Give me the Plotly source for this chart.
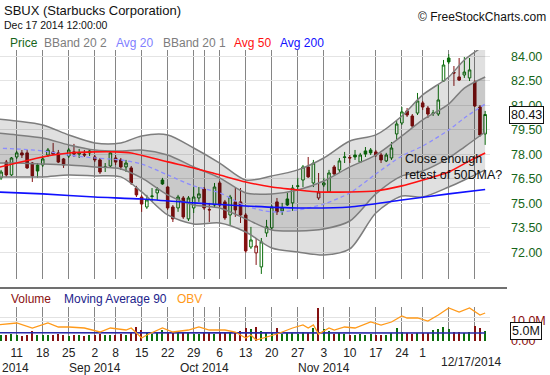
import plotly.graph_objects as go

# ---------------- data (trading-day index 0 = Aug 11 2014, 90 = Dec 17 2014) ----------------
day_idx = list(range(-3, 91))
opens = [76.55, 77.52, 76.73, 77.83, 78.08, 78.08, 77.46, 77.34, 77.34, 77.95,
         78.14, 78.08, 77.71, 77.89, 78.14, 78.01, 78.01, 78.20, 77.83, 77.65,
         77.19, 77.28, 77.77, 77.65, 77.22, 77.16, 75.93, 75.38, 74.77, 75.41,
         75.63, 76.42, 75.99, 74.77, 74.71, 75.32, 74.04, 74.71, 75.32, 75.87,
         74.62, 74.89, 76.24, 75.08, 74.28, 75.08, 75.08, 74.28, 72.32, 71.96,
         71.10, 73.18, 73.49, 75.08, 74.53, 75.26, 75.02, 76.03, 76.42, 77.22,
         76.24, 75.32, 76.12, 75.69, 77.22, 77.04, 77.80, 77.80, 77.95, 77.52,
         78.20, 78.26, 78.14, 77.95, 77.59, 77.77, 79.24, 79.91, 80.65, 80.34,
         80.52, 81.14, 80.83, 80.49, 80.46, 82.48, 83.89, 83.00, 82.73, 82.85,
         82.67, 82.42, 80.89, 79.24]
highs = [77.04, 77.65, 77.83, 78.20, 78.26, 78.26, 77.52, 77.46, 77.83, 78.38,
         78.69, 78.26, 77.77, 78.38, 78.63, 78.32, 78.26, 78.26, 77.95, 77.77,
         77.46, 78.20, 77.95, 77.77, 77.65, 77.28, 76.06, 75.51, 75.51, 75.93,
         75.99, 76.55, 76.06, 74.89, 75.51, 75.44, 75.44, 75.99, 75.99, 75.99,
         75.02, 76.24, 76.36, 75.20, 75.51, 75.93, 75.93, 74.40, 73.55, 72.87,
         72.87, 73.98, 74.89, 75.32, 75.02, 75.63, 76.12, 76.55, 77.34, 77.83,
         77.65, 76.85, 76.55, 77.04, 77.34, 77.77, 78.14, 77.95, 78.26, 78.08,
         78.44, 78.38, 78.26, 78.08, 78.08, 78.75, 80.03, 80.89, 80.83, 80.46,
         81.75, 81.26, 80.95, 80.71, 82.24, 83.77, 84.13, 83.40, 83.89, 83.95,
         83.89, 82.54, 81.01, 80.65]
lows = [76.42, 76.61, 76.67, 77.71, 77.77, 77.10, 76.30, 76.55, 77.22, 77.83,
        77.95, 77.46, 77.16, 77.77, 77.83, 77.77, 77.83, 77.89, 77.52, 76.79,
        76.91, 77.16, 77.34, 77.04, 76.91, 76.12, 75.38, 74.47, 74.65, 75.08,
        75.20, 76.12, 74.59, 73.85, 74.47, 74.04, 73.91, 74.40, 75.08, 74.59,
        73.85, 74.77, 74.77, 73.98, 73.67, 74.16, 73.79, 71.96, 72.20, 71.22,
        70.67, 72.94, 73.36, 74.28, 74.28, 74.83, 74.53, 75.81, 75.99, 76.55,
        75.99, 75.20, 75.99, 75.63, 76.73, 76.91, 77.46, 77.46, 77.65, 77.46,
        77.83, 77.95, 77.83, 77.46, 77.52, 77.65, 78.87, 79.79, 80.28, 79.61,
        80.40, 80.71, 80.22, 80.34, 80.34, 82.42, 83.52, 82.18, 82.48, 82.67,
        82.48, 80.89, 79.06, 78.57]
closes = [76.91, 76.73, 77.77, 78.08, 77.95, 77.16, 76.67, 76.97, 77.71, 78.26,
          78.01, 77.52, 77.34, 78.26, 78.01, 78.08, 77.95, 78.08, 77.65, 76.91,
          77.22, 78.08, 77.52, 77.22, 77.46, 76.24, 75.51, 74.95, 75.20, 75.44,
          75.87, 76.18, 74.71, 74.04, 75.38, 74.16, 75.32, 75.38, 75.57, 74.71,
          74.59, 75.99, 74.89, 74.10, 75.38, 74.59, 74.28, 72.08, 72.75, 72.38,
          72.63, 73.55, 74.77, 74.47, 74.71, 74.89, 75.93, 76.06, 77.22, 76.61,
          77.46, 75.69, 76.24, 76.85, 76.79, 77.59, 77.83, 77.77, 77.83, 77.95,
          78.01, 78.08, 77.95, 77.65, 77.95, 78.38, 79.85, 80.59, 80.40, 79.73,
          81.26, 80.89, 80.46, 80.52, 81.32, 83.46, 83.65, 82.97, 82.54, 83.03,
          83.16, 80.95, 79.18, 80.43]
volumes = [3.0, 3.2, 3.4, 2.8, 2.6, 3.0, 5.0, 3.0, 3.2, 2.8,
           3.0, 3.3, 2.9, 2.7, 3.0, 2.8, 2.6, 2.9, 3.1, 3.6,
           3.0, 3.2, 2.9, 3.3, 3.1, 4.0, 7.0, 5.5, 3.8, 3.4,
           4.0, 5.5, 4.2, 4.6, 3.8, 4.4, 4.0, 3.6, 3.4, 3.9,
           4.2, 3.7, 4.0, 4.5, 4.3, 4.6, 4.8, 6.5, 6.0, 6.8,
           5.2, 4.6, 4.4, 6.5, 3.6, 3.8, 4.0, 3.4, 4.5, 4.2,
           6.3, 16.5, 6.2, 4.8, 3.6, 4.0, 3.4, 3.2, 3.0, 3.4,
           3.2, 3.6, 3.1, 3.0, 3.2, 4.2, 6.4, 4.5, 3.8, 3.6,
           4.2, 3.9, 4.0, 5.5, 6.2, 6.8, 6.0, 4.5, 4.6, 4.2,
           4.4, 7.6, 6.6, 5.0]

tick_idx = [0, 5, 10, 15, 19, 24, 29, 34, 36, 39, 44, 49, 54, 59, 64, 69, 74, 78, 83, 88]
tick_text = ["11", "18", "25", "2", "8", "15", "22", "29", "", "6", "13", "20", "27",
             "3", "10", "17", "24", "1", "", ""]
month_idx = [15, 36, 59]
month_text = ["Sep 2014", "Oct 2014", "Nov 2014"]

price_ticks = [72.0, 73.5, 75.0, 76.5, 78.0, 79.5, 81.0, 82.5, 84.0]

band_idx = [-4, 0, 5, 10, 15, 20, 24, 29, 34, 39, 44, 49, 54, 59, 64, 69, 74, 78, 83, 86, 90]
bb2_upper = [80.16, 80.03, 79.79, 79.18, 78.69, 78.69, 79.12, 79.18, 78.38, 77.46, 76.42,
             76.67, 77.04, 77.77, 78.81, 79.18, 80.34, 81.63, 82.73, 83.77, 84.69]
bb1_upper = [79.30, 79.18, 78.99, 78.57, 78.26, 78.20, 78.26, 77.95, 77.22, 76.55, 75.63,
             75.57, 75.81, 76.36, 77.22, 77.95, 79.12, 80.10, 81.07, 82.05, 82.73]
avg20 = [78.38, 78.32, 78.20, 77.95, 77.77, 77.65, 77.40, 76.73, 76.06, 75.63, 74.83,
         74.47, 74.59, 74.95, 75.63, 76.79, 77.89, 78.50, 79.48, 80.22, 81.07]
bb1_lower = [77.46, 77.46, 77.40, 77.34, 77.22, 77.10, 76.55, 75.51, 74.89, 74.71, 74.04,
             73.36, 73.30, 73.42, 73.91, 75.57, 76.67, 76.97, 77.77, 78.44, 79.36]
bb2_lower = [76.61, 76.61, 76.61, 76.73, 76.67, 76.61, 75.69, 74.28, 73.73, 73.79, 73.24,
             72.26, 72.02, 71.83, 72.20, 74.40, 75.44, 75.38, 75.99, 76.42, 77.04]

ma50_idx = [-4, 0, 5, 10, 15, 19, 22, 29, 34, 39, 44, 49, 54, 58, 64, 69, 74, 78, 83, 87, 90]
ma50 = [77.16, 77.46, 77.83, 78.07, 78.14, 78.14, 78.07, 77.53, 77.16, 76.73, 76.30,
        75.99, 75.81, 75.69, 75.69, 75.75, 76.06, 76.42, 76.91, 77.59, 78.07]
ma200_idx = [-4, 5, 15, 24, 34, 44, 54, 64, 74, 83, 90]
ma200 = [75.69, 75.57, 75.38, 75.26, 75.02, 74.83, 74.71, 74.77, 75.20, 75.57, 75.84]

ma90_idx = [-4, 13, 15, 40, 60, 90]
ma90 = [4.15, 4.15, 3.8, 3.8, 3.95, 4.0]

obv_idx = [-4, 0, 3, 6, 8, 10, 13, 16, 18, 21, 22, 24, 25, 28, 30, 33, 35, 37, 40, 42,
           44, 45, 46, 48, 50, 53, 55, 56, 57, 58, 60, 61, 63, 65, 68, 70, 72, 74, 75, 77,
           79, 81, 83, 85, 87, 89, 90]
obv = [6, 8, 3, 8, 4, 4, 3, -1, 3, 1, 3, -7, -4, 3, -1, 1, 4, 1, 1, -1,
       -7, -4, -9, -6, -3, 3, 6, 3, 6, -3, 3, 1, 4, 3, 9, 6, 9, 15, 13, 13,
       10, 16, 23, 19, 23, 16, 18]

last_price = 80.43
last_volume_label = 5.0

# ---------------- styling / geometry ----------------
W, H = 550, 375
ML, MR, MT, MB = 0, 60, 50, 34
PW, PH = W - ML - MR, H - MT - MB
FONT = "Liberation Sans, Arial, sans-serif"
GREEN = "#0c6e0c"
RED = "#851010"


def px(x):
    return (x - ML) / PW


def py(y):
    return (H - MB - y) / PH


fig = go.Figure()

# Bollinger bands
band_line = dict(color="#7d7d7d", width=1.5, shape="spline", smoothing=0.8)
fig.add_trace(go.Scatter(x=band_idx, y=bb2_lower, mode="lines", line=band_line,
                         xaxis="x", yaxis="y", hoverinfo="skip"))
fig.add_trace(go.Scatter(x=band_idx, y=bb2_upper, mode="lines", line=band_line,
                         fill="tonexty", fillcolor="rgba(0,0,0,0.12)",
                         xaxis="x", yaxis="y", hoverinfo="skip"))
fig.add_trace(go.Scatter(x=band_idx, y=bb1_lower, mode="lines", line=band_line,
                         xaxis="x", yaxis="y", hoverinfo="skip"))
fig.add_trace(go.Scatter(x=band_idx, y=bb1_upper, mode="lines", line=band_line,
                         fill="tonexty", fillcolor="rgba(0,0,0,0.10)",
                         xaxis="x", yaxis="y", hoverinfo="skip"))
fig.add_trace(go.Scatter(x=band_idx, y=avg20, mode="lines",
                         line=dict(color="#8c8cff", width=1.3, dash="4px,3px",
                                   shape="spline", smoothing=0.8),
                         xaxis="x", yaxis="y", hoverinfo="skip"))
fig.add_trace(go.Scatter(x=ma200_idx, y=ma200, mode="lines",
                         line=dict(color="#1010ff", width=1.6, shape="spline", smoothing=0.6),
                         xaxis="x", yaxis="y", hoverinfo="skip"))
fig.add_trace(go.Scatter(x=ma50_idx, y=ma50, mode="lines",
                         line=dict(color="#ff1010", width=1.6, shape="spline", smoothing=0.6),
                         xaxis="x", yaxis="y", hoverinfo="skip"))

# Candles grouped by colour (vs previous close) and fill (close vs open)
groups = {}
for k, i in enumerate(day_idx):
    prev = closes[k - 1] if k > 0 else opens[k]
    up = closes[k] >= prev
    hollow = closes[k] > opens[k]
    groups.setdefault((up, hollow), []).append(k)

for (up, hollow), ks in groups.items():
    col = GREEN if up else RED
    fill = "white" if hollow else col
    sty = dict(line=dict(color=col, width=1), fillcolor=fill)
    fig.add_trace(go.Candlestick(
        x=[day_idx[k] for k in ks],
        open=[opens[k] for k in ks], high=[highs[k] for k in ks],
        low=[lows[k] for k in ks], close=[closes[k] for k in ks],
        increasing=sty, decreasing=sty, whiskerwidth=0,
        xaxis="x", yaxis="y", hoverinfo="skip"))

# Volume panel
vol_colors = []
for k in range(len(day_idx)):
    prev = closes[k - 1] if k > 0 else opens[k]
    vol_colors.append(GREEN if closes[k] >= prev else RED)
fig.add_trace(go.Bar(x=day_idx, y=volumes, width=0.25, marker=dict(color=vol_colors, line=dict(width=0)),
                     xaxis="x2", yaxis="y2", hoverinfo="skip"))
fig.add_trace(go.Scatter(x=ma90_idx, y=ma90, mode="lines", line=dict(color="#2a2aa8", width=1.6),
                         xaxis="x2", yaxis="y2", hoverinfo="skip"))
fig.add_trace(go.Scatter(x=obv_idx, y=obv, mode="lines", line=dict(color="#ff9a1a", width=1.3),
                         xaxis="x2", yaxis="y3", hoverinfo="skip"))

xr = [-3.21, 90.93]
common_x = dict(range=xr, tickmode="array", tickvals=tick_idx, showgrid=True,
                gridcolor="#858585", gridwidth=1.3, zeroline=False, ticks="",
                showline=False, fixedrange=True)

fig.update_layout(
    width=W, height=H, margin=dict(l=ML, r=MR, t=MT, b=MB),
    paper_bgcolor="white", plot_bgcolor="white", showlegend=False,
    font=dict(family=FONT, size=12, color="#222"),
    boxmode="overlay", bargap=0,
    xaxis=dict(common_x, domain=[0, 1], anchor="y", showticklabels=False,
               rangeslider=dict(visible=False)),
    xaxis2=dict(common_x, domain=[0, 1], anchor="y2", matches="x", showticklabels=True,
                ticktext=tick_text, tickfont=dict(size=12, color="#222"), ticklabelstandoff=3),
    yaxis=dict(domain=[py(279), 1], range=[70.36, 84.38], side="right", anchor="x",
               tickmode="array", tickvals=price_ticks, tickformat=".2f",
               tickfont=dict(size=12.5, color="#16651a"), ticklabelstandoff=20,
               showgrid=True, gridcolor="#e4e4e4", gridwidth=1, zeroline=False,
               ticks="", fixedrange=True),
    yaxis2=dict(domain=[0, py(307)], range=[0, 17], side="right", anchor="x2",
                tickmode="array", tickvals=[0, 10, 12], ticktext=["0.00", "10.0M", ""],
                tickfont=dict(size=12.5, color="#8b1010"), ticklabelstandoff=20,
                showgrid=True, gridcolor="#e2e2e2", zeroline=False, ticks="", fixedrange=True),
    yaxis3=dict(domain=[0, py(307)], range=[-10, 24], overlaying="y2", visible=False,
                fixedrange=True),
)

ann = []


def text(x, y, s, color="#222", size=12, anchor="left", xref="paper"):
    ann.append(dict(x=x, y=py(y), xref=xref, yref="paper", text=s, showarrow=False,
                    xanchor=anchor, yanchor="middle", font=dict(size=size, color=color, family=FONT)))


text(px(2), 10, "SBUX (Starbucks Corporation)", "#111", 13)
text(px(2), 25, "Dec 17 2014 12:00:00", "#111", 10.5)
text(px(548), 17, "© FreeStockCharts.com", "#111", 12, "right")
for lx, s, c in [(8, "Price", "#16651a"), (42, "BBand 20 2", "#7d7d7d"), (114, "Avg 20", "#8080ff"),
                 (161, "BBand 20 1", "#7d7d7d"), (232, "Avg 50", "#ff1010"), (278, "Avg 200", "#1010ff")]:
    text(px(lx), 43, s, c, 12)
for lx, s, c in [(9, "Volume", "#8b1010"), (62, "Moving Average 90", "#22228b"), (175, "OBV", "#ff9a1a")]:
    text(px(lx), 299, s, c, 12)

ann.append(dict(x=px(403), y=py(167), xref="paper", yref="paper",
                text="Close enough<br>retest of 50DMA?", showarrow=False, align="left",
                xanchor="left", yanchor="middle", font=dict(size=12.5, color="#111", family=FONT)))

text(px(0), 368, "2014", "#222", 12)
for mi, ms in zip(month_idx, month_text):
    ann.append(dict(x=mi, y=py(368), xref="x2", yref="paper", text=ms, showarrow=False,
                    xanchor="center", yanchor="middle", font=dict(size=12, color="#222", family=FONT)))
text(px(471), 362, "12/17/2014", "#222", 12, "center")

ann.append(dict(x=1, xshift=19, y=last_price, xref="paper", yref="y", text=f"{last_price:.2f}",
                showarrow=False, xanchor="left", yanchor="middle", bgcolor="white",
                bordercolor="#111", borderwidth=1, borderpad=1,
                font=dict(size=12.5, color="#111", family=FONT)))
ann.append(dict(x=1, xshift=20, y=last_volume_label, xref="paper", yref="y2",
                text=f"{last_volume_label:.1f}M", showarrow=False, xanchor="left", yanchor="middle",
                bgcolor="white", bordercolor="#111", borderwidth=1, borderpad=1,
                font=dict(size=12.5, color="#111", family=FONT)))

fig.update_layout(annotations=ann, shapes=[
    dict(type="line", xref="paper", yref="paper", x0=0, x1=px(507), y0=py(288), y1=py(288),
         line=dict(color="#707070", width=2))
])

fig.write_html("out.html", config={"displayModeBar": False},
               post_script="document.body.style.margin='0px';document.body.style.overflow='hidden';")
